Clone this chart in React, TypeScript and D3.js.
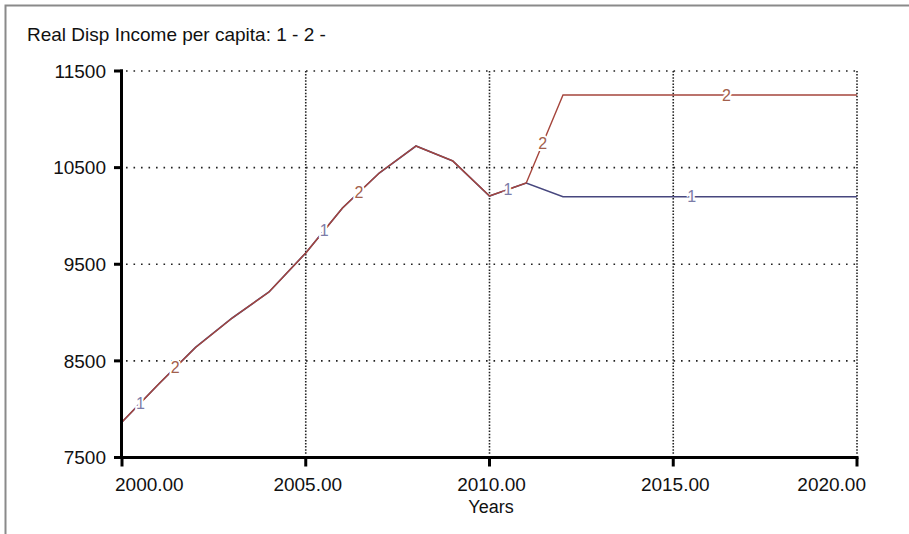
import React from "react";
import * as d3 from "d3";

const title = "Real Disp Income per capita: 1 - 2 -";
const xAxisLabel = "Years";
const years = [2000, 2001, 2002, 2003, 2004, 2005, 2006, 2007, 2008, 2009, 2010, 2011, 2012, 2013, 2014, 2015, 2016, 2017, 2018, 2019, 2020];
const series1 = [7868, 8261, 8639, 8944, 9213, 9617, 10082, 10444, 10724, 10569, 10206, 10341, 10199, 10199, 10199, 10199, 10199, 10199, 10199, 10199, 10199];
const series2 = [7868, 8261, 8639, 8944, 9213, 9617, 10082, 10444, 10724, 10569, 10206, 10341, 11252, 11252, 11252, 11252, 11252, 11252, 11252, 11252, 11252];
const yTicks = [7500, 8500, 9500, 10500, 11500];
const xTicks = [2000, 2005, 2010, 2015, 2020];
const label1Years = [2000.5, 2005.5, 2010.5, 2015.5];
const label2Years = [2001.45, 2006.45, 2011.45, 2016.45];

const W = 909;
const H = 534;
const FONT = "'Liberation Sans', Arial, sans-serif";
const C1 = "#47477e";
const C2 = "#a5453c";
const L1 = "#7c7ca8";
const L2 = "#a2604c";

export default function App() {
  const x = d3.scaleLinear().domain([2000, 2020]).range([122, 857]);
  const y = d3.scaleLinear().domain([7500, 11500]).range([457.5, 71]);
  const line = d3
    .line<number>()
    .x((_, i) => x(years[i]))
    .y((d) => y(d));
  const interp = (s: number[], yr: number) => {
    const f = d3.scaleLinear().domain(years).range(s);
    return f(yr);
  };
  const x0 = x(2000);
  const x1 = x(2020);
  const yTop = y(11500);
  const yBot = y(7500);

  return (
    <svg
      width={W}
      height={H}
      style={{ position: "absolute", left: 0, top: 0, background: "#fff" }}
      fontFamily={FONT}
    >
      <rect x={0} y={0} width={W} height={H} fill="#fff" />
      <path d={`M5.5,${H} V5.5 H${W}`} fill="none" stroke="#8a8a8a" strokeWidth={2} />
      <text x={27} y={40.5} fontSize={19} fill="#111">
        {title}
      </text>

      {/* grid */}
      {yTicks
        .filter((t) => t !== 7500)
        .map((t) => (
          <line
            key={"gy" + t}
            x1={x0 + 4}
            x2={x1}
            y1={y(t)}
            y2={y(t)}
            stroke="#222"
            strokeWidth={1.6}
            strokeDasharray="1.6,5.9"
          />
        ))}
      {xTicks
        .filter((t) => t !== 2000)
        .map((t) => (
          <line
            key={"gx" + t}
            x1={x(t)}
            x2={x(t)}
            y1={yTop}
            y2={yBot - 2}
            stroke="#222"
            strokeWidth={1.6}
            strokeDasharray="1.5,1.6"
          />
        ))}

      {/* series */}
      <path d={line(series1) || ""} fill="none" stroke={C1} strokeWidth={1.6} />
      <path d={line(series2) || ""} fill="none" stroke={C2} strokeWidth={1.4} />

      {label1Years.map((yr, i) => (
        <text
          key={"l1" + i}
          x={x(yr)}
          y={y(interp(series1, yr))}
          dy="0.36em"
          textAnchor="middle"
          fontSize={16}
          fill={L1}
          stroke="#fff"
          strokeWidth={4}
          paintOrder="stroke"
        >
          1
        </text>
      ))}
      {label2Years.map((yr, i) => (
        <text
          key={"l2" + i}
          x={x(yr)}
          y={y(interp(series2, yr))}
          dy="0.36em"
          textAnchor="middle"
          fontSize={16}
          fill={L2}
          stroke="#fff"
          strokeWidth={4}
          paintOrder="stroke"
        >
          2
        </text>
      ))}

      {/* axes */}
      <line x1={x0 - 0.5} x2={x0 - 0.5} y1={yTop - 1.5} y2={yBot + 1.5} stroke="#000" strokeWidth={3} />
      <line x1={x0 - 2} x2={x1 + 1.5} y1={yBot} y2={yBot} stroke="#000" strokeWidth={3} />
      {yTicks.map((t) => (
        <g key={"ty" + t}>
          <line x1={x0 - 8} x2={x0 + (t === 11500 ? 1 : 0)} y1={y(t)} y2={y(t)} stroke="#000" strokeWidth={3} />
          <text x={106} y={y(t)} dy="0.36em" textAnchor="end" fontSize={19} fill="#111">
            {t}
          </text>
        </g>
      ))}
      {xTicks.map((t, i) => {
        const anchor = i === 0 ? "start" : i === xTicks.length - 1 ? "end" : "middle";
        const lx = i === 0 ? x(t) - 7 : i === xTicks.length - 1 ? x(t) + 9 : x(t) + 2;
        return (
          <g key={"tx" + t}>
            <line x1={x(t)} x2={x(t)} y1={yBot} y2={yBot + 9} stroke="#000" strokeWidth={3} />
            <text x={lx} y={490.5} textAnchor={anchor} fontSize={19} fill="#111">
              {d3.format(".2f")(t)}
            </text>
          </g>
        );
      })}
      <text x={491} y={512.5} textAnchor="middle" fontSize={18} fill="#111">
        {xAxisLabel}
      </text>
    </svg>
  );
}
